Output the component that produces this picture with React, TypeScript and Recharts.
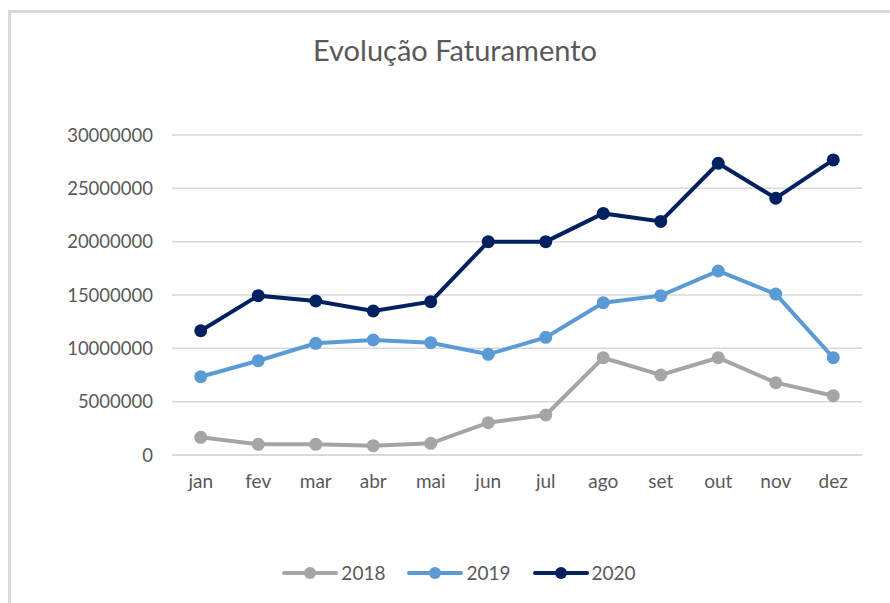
import React from "react";
import { LineChart, Line, XAxis, YAxis, CartesianGrid } from "recharts";

const months = ["jan", "fev", "mar", "abr", "mai", "jun", "jul", "ago", "set", "out", "nov", "dez"];
const s2018 = [1660000, 1000000, 1000000, 870000, 1090000, 3030000, 3750000, 9120000, 7500000, 9120000, 6780000, 5560000];
const s2019 = [7340000, 8840000, 10470000, 10780000, 10530000, 9440000, 11030000, 14280000, 14940000, 17250000, 15090000, 9120000];
const s2020 = [11650000, 14940000, 14440000, 13500000, 14370000, 20000000, 20000000, 22650000, 21900000, 27350000, 24070000, 27660000];
const yTicks = [0, 5000000, 10000000, 15000000, 20000000, 25000000, 30000000];

const seriesMeta = [
  { key: "2018", color: "#a5a5a5" },
  { key: "2019", color: "#5b9bd5" },
  { key: "2020", color: "#002060" },
];

const data = months.map((m, i) => ({ month: m, "2018": s2018[i], "2019": s2019[i], "2020": s2020[i] }));

const FONT = "Lato, 'Open Sans', sans-serif";
const TEXT = "#595959";

const LegendContent = () => (
  <div style={{ display: "flex", justifyContent: "center", alignItems: "center", fontFamily: FONT, fontSize: 19, color: TEXT }}>
    {seriesMeta.map((s, i) => (
      <div key={s.key} style={{ display: "flex", alignItems: "center", marginLeft: i === 0 ? 0 : 22 }}>
        <svg width={56} height={16} style={{ display: "block" }}>
          <line x1={2} y1={8} x2={54} y2={8} stroke={s.color} strokeWidth={4} strokeLinecap="round" />
          <circle cx={28} cy={8} r={6} fill={s.color} />
        </svg>
        <span style={{ marginLeft: 3 }}>{s.key}</span>
      </div>
    ))}
  </div>
);

export default function App() {
  return (
    <div style={{ position: "absolute", left: 0, top: 0, width: 890, height: 603, overflow: "hidden", background: "#fff" }}>
      <div style={{ position: "absolute", left: 8, top: 10, width: 900, height: 700, borderLeft: "3px solid #d9d9d9", borderTop: "3px solid #d9d9d9", boxSizing: "border-box" }} />
      <div style={{ position: "absolute", left: 0, top: 32, width: 910, textAlign: "center", fontFamily: FONT, fontSize: 29, color: TEXT }}>
        Evolução Faturamento
      </div>
      <div style={{ position: "absolute", left: 0, top: 0 }}>
        <LineChart width={890} height={603} data={data} margin={{ top: 135, right: 28, bottom: 118, left: 0 }}>
          <CartesianGrid vertical={false} stroke="#d9d9d9" strokeWidth={1.5} />
          <XAxis
            dataKey="month"
            padding={{ left: 28.75, right: 28.75 }}
            axisLine={{ stroke: "#d9d9d9", strokeWidth: 1.5 }}
            tickLine={false}
            tick={{ fill: TEXT, fontSize: 19, fontFamily: FONT }}
            tickMargin={14}
          />
          <YAxis
            width={172}
            domain={[0, 30000000]}
            ticks={yTicks}
            axisLine={false}
            tickLine={false}
            tick={{ fill: TEXT, fontSize: 18.5, fontFamily: FONT }}
            tickMargin={13}
          />
          {seriesMeta.map((s) => (
            <Line
              key={s.key}
              type="linear"
              dataKey={s.key}
              stroke={s.color}
              strokeWidth={4}
              dot={{ r: 6.5, fill: s.color, stroke: s.color, strokeWidth: 0 }}
              activeDot={false}
              isAnimationActive={false}
            />
          ))}
        </LineChart>
      </div>
      <div style={{ position: "absolute", left: 0, top: 561, width: 918 }}>
        <LegendContent />
      </div>
    </div>
  );
}
